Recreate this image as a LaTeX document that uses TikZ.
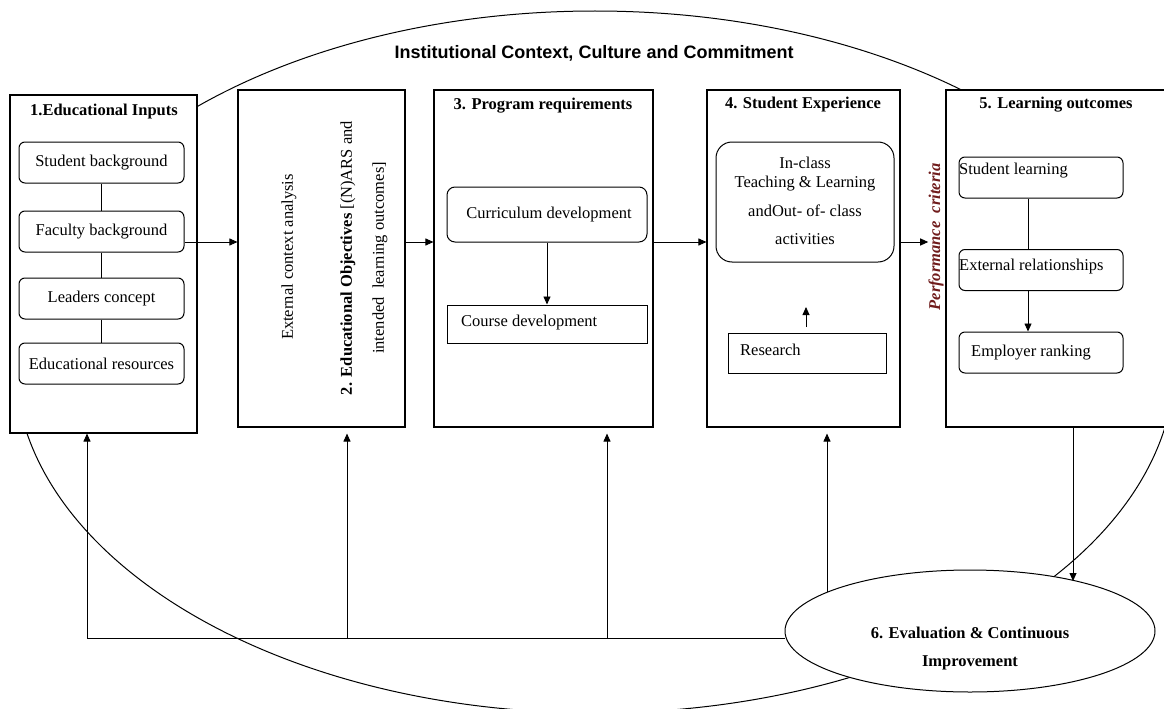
\documentclass[tikz,border=0pt]{standalone}
\usepackage{fontspec}
\setmainfont{Liberation Serif}
\newfontfamily\titlefont{Liberation Sans}
\usetikzlibrary{arrows.meta,shapes.geometric,backgrounds}
\definecolor{perfred}{RGB}{112,28,28}
\begin{document}
\begin{tikzpicture}[x=1pt,y=-1pt,
  every node/.style={font=\fontsize{16.5}{19}\selectfont},
  bigbox/.style={draw, line width=1.1pt, fill=white, inner sep=0pt, rectangle},
  rbox/.style={draw, line width=1pt, fill=white, rounded corners=6pt, inner sep=0pt, minimum width=165pt, minimum height=41pt},
  sbox/.style={draw, line width=1pt, fill=white, inner sep=0pt},
  arr/.style={-{Triangle[length=8pt,width=7pt]}, line width=0.9pt},
  ln/.style={line width=0.9pt},
  txt/.style={inner sep=0pt},
  ttl/.style={inner sep=0pt, font=\fontsize{16.5}{19}\selectfont\bfseries}
]
\useasboundingbox (0,0) rectangle (1164,709);

% main boxes
\node[bigbox, minimum width=187pt, minimum height=338pt] (b1) at (103.5,264) {};
\node[bigbox, minimum width=167pt, minimum height=337pt] (b2) at (321.5,258.5) {};
\node[bigbox, minimum width=219pt, minimum height=337pt] (b3) at (543.5,258.5) {};
\node[bigbox, minimum width=193pt, minimum height=337pt] (b4) at (803.5,258.5) {};
\node[bigbox, minimum width=229pt, minimum height=337pt] (b5) at (1060.5,258.5) {};

% title of the context
\node[inner sep=0pt, font=\fontsize{18}{21}\selectfont\titlefont\bfseries] (ctx) at (594,53) {Institutional Context, Culture and Commitment};

% box 1
\node[ttl] (t1) at (104,112) {1.Educational Inputs};
\node[rbox] (sb) at (101.5,162.5) {Student background};
\node[rbox] (fb) at (101.5,231.5) {Faculty background};
\node[rbox] (lc) at (101.5,298.5) {Leaders concept};
\node[rbox] (er) at (101.5,363.5) {Educational resources};
\draw[ln] (sb) -- (fb);
\draw[ln] (fb) -- (lc);
\draw[ln] (lc) -- (er);

% box 2
\node[txt, rotate=90] (ec) at (289,257) {External context analysis};
\node[txt, rotate=90] (eo) at (348,258) {\textbf{2. Educational Objectives} [(N)ARS and};
\node[txt, rotate=90] (il) at (380,258) {intended\ \ learning outcomes]};

% box 3
\node[ttl] (t3) at (543,106) {3. Program requirements};
\node[sbox, rounded corners=8pt, minimum width=200pt, minimum height=55pt] (cd) at (547,214.5) {\hspace{4pt}Curriculum development};
\node[sbox, minimum width=200pt, minimum height=38pt] (cod) at (547,324) {};
\node[txt, anchor=west] (codt) at (461,323) {Course development};
\draw[arr] (cd) -- (cod);

% box 4
\node[ttl] (t4) at (803,105) {4. Student Experience};
\node[sbox, rounded corners=16pt, minimum width=178pt, minimum height=120pt] (ic) at (805,202) {};
\node[txt, align=center] (ict) at (805,201) {In-class\\Teaching \& Learning\\[10pt]andOut- of- class\\[9pt]activities};
\node[sbox, minimum width=158pt, minimum height=40pt] (rs) at (807,353) {};
\node[txt, anchor=west] (rst) at (740,350) {Research};
\coordinate (ra) at (806,327);
\coordinate (rb) at (806,307);
\draw[arr] (ra) -- (rb);

% performance criteria
\node[txt, rotate=90, text=perfred, font=\fontsize{16.5}{19}\selectfont\bfseries\itshape] (pc) at (936,237) {Performance\ \ criteria};

% box 5
\node[ttl] (t5) at (1056,105) {5. Learning outcomes};
\node[rbox, minimum width=164pt] (sl) at (1041,177.5) {};
\node[txt, anchor=west] (slt) at (959,171) {Student learning};
\node[rbox, minimum width=164pt] (erl) at (1041,270) {};
\node[txt, anchor=west] (erlt) at (959,267) {External relationships};
\node[rbox, minimum width=164pt] (emp) at (1041,352.5) {};
\node[txt, anchor=west] (empt) at (971,353) {Employer ranking};
\coordinate (c5) at (1028,0);
\draw[ln] (sl.south -| c5) -- (erl.north -| c5);
\draw[arr] (erl.south -| c5) -- (emp.north -| c5);

% horizontal flow
\coordinate (row) at (0,242);
\draw[arr] (fb.east |- row) -- (b2.west |- row);
\draw[arr] (b2.east |- row) -- (b3.west |- row);
\draw[arr] (b3.east |- row) -- (b4.west |- row);
\draw[arr] (b4.east |- row) -- (pc.north |- row);

% evaluation
\node[draw, ellipse, line width=1pt, fill=white, minimum width=370pt, minimum height=122pt, inner sep=0pt] (ev) at (970,631) {};
\node[txt, align=center, font=\fontsize{16.5}{19}\selectfont\bfseries] (evt) at (970,649) {6. Evaluation \& Continuous\\[9pt]Improvement};
\coordinate (d5) at (1073,0);
\coordinate (d5e) at (1073,581);
\draw[arr] (d5 |- b5.south) -- (d5e);

% background: big ellipse and feedback
\begin{pgfonlayer}{background}
\draw[line width=1pt] (595,362) ellipse [x radius=580, y radius=351];
\coordinate (f1) at (87,638);
\coordinate (f2) at (347,638);
\coordinate (f3) at (607,638);
\coordinate (f4) at (827,638);
\draw[ln] (f1) -- (f1 -| ev.west);
\draw[arr] (f1) -- (f1 |- b1.south);
\draw[arr] (f2) -- (f2 |- b1.south);
\draw[arr] (f3) -- (f3 |- b1.south);
\draw[arr] (f4) -- (f4 |- b1.south);
\end{pgfonlayer}
\end{tikzpicture}
\end{document}
